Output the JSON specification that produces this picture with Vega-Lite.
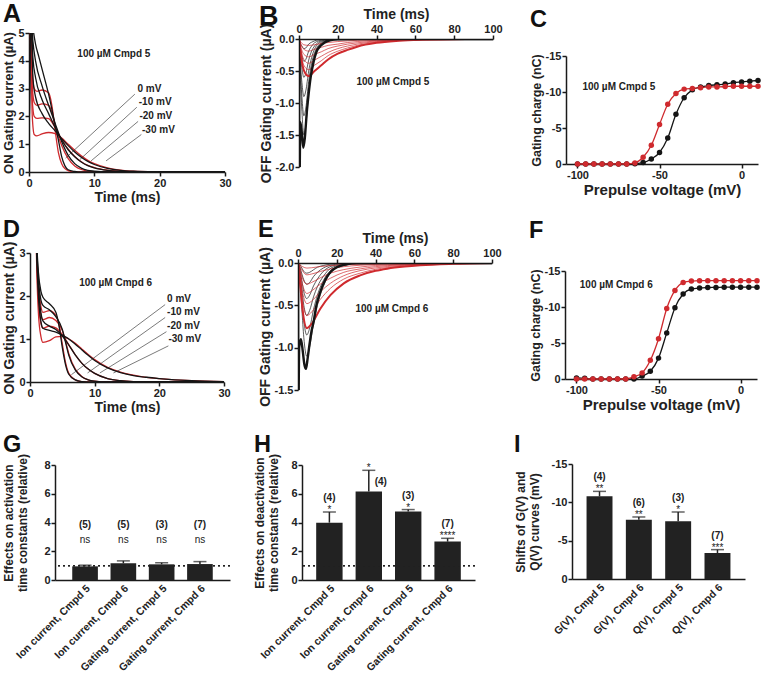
{
"$schema":"https://vega.github.io/schema/vega-lite/v6.json",
"background":"white",
"padding":{"left":1,"top":1,"right":0,"bottom":1},
"config":{
 "font":"Liberation Sans",
 "locale":{"number":{"decimal":".","thousands":",","grouping":[3],"currency":["$",""],"minus":"-"}},
 "view":{"stroke":null},
 "axis":{"grid":false,"domainColor":"#1a1a1a","domainWidth":1.5,"tickColor":"#1a1a1a","tickWidth":1.5,"tickSize":4,"labelFontSize":11,"labelFontWeight":"bold","labelColor":"#222","titleFontSize":14,"titleFontWeight":"bold","titleColor":"#222","labelPadding":1,"titlePadding":2,"labelFlush":false},
 "title":{"fontSize":23.5,"fontWeight":"bold","anchor":"start","frame":"bounds","color":"#111"},
 "text":{"font":"Liberation Sans"}
},
"datasets":{
"A":[
{"s":"k0","t":0,"v":0},{"s":"k0","t":0.25,"v":6},{"s":"k0","t":0.6,"v":5.2},{"s":"k0","t":1,"v":4.6},{"s":"k0","t":1.5,"v":4.15},{"s":"k0","t":2,"v":3.7},{"s":"k0","t":3,"v":2.8},{"s":"k0","t":4,"v":1.7},{"s":"k0","t":4.5,"v":1.15},{"s":"k0","t":5,"v":0.55},{"s":"k0","t":5.5,"v":0.22},{"s":"k0","t":6,"v":0.08},{"s":"k0","t":7,"v":0.02},{"s":"k0","t":8,"v":0},{"s":"k0","t":30,"v":0},
{"s":"k10","t":0,"v":0},{"s":"k10","t":0.25,"v":6},{"s":"k10","t":0.6,"v":4.7},{"s":"k10","t":1,"v":4.0},{"s":"k10","t":2,"v":3.1},{"s":"k10","t":3,"v":2.4},{"s":"k10","t":4,"v":1.75},{"s":"k10","t":5,"v":1.1},{"s":"k10","t":6,"v":0.6},{"s":"k10","t":7,"v":0.3},{"s":"k10","t":8,"v":0.14},{"s":"k10","t":9,"v":0.06},{"s":"k10","t":10,"v":0.03},{"s":"k10","t":12,"v":0},{"s":"k10","t":30,"v":0},
{"s":"k20","t":0,"v":0},{"s":"k20","t":0.25,"v":6},{"s":"k20","t":0.6,"v":4.1},{"s":"k20","t":1,"v":3.4},{"s":"k20","t":2,"v":2.6},{"s":"k20","t":3,"v":2.1},{"s":"k20","t":4,"v":1.6},{"s":"k20","t":5,"v":1.15},{"s":"k20","t":6,"v":0.8},{"s":"k20","t":7,"v":0.55},{"s":"k20","t":8,"v":0.36},{"s":"k20","t":9,"v":0.23},{"s":"k20","t":10,"v":0.15},{"s":"k20","t":12,"v":0.06},{"s":"k20","t":14,"v":0.02},{"s":"k20","t":16,"v":0},{"s":"k20","t":30,"v":0},
{"s":"k30","t":0,"v":0},{"s":"k30","t":0.25,"v":6},{"s":"k30","t":0.6,"v":3.4},{"s":"k30","t":1,"v":2.7},{"s":"k30","t":2,"v":2.1},{"s":"k30","t":3,"v":1.75},{"s":"k30","t":4,"v":1.48},{"s":"k30","t":5,"v":1.2},{"s":"k30","t":6,"v":0.95},{"s":"k30","t":7,"v":0.72},{"s":"k30","t":8,"v":0.53},{"s":"k30","t":9,"v":0.38},{"s":"k30","t":10,"v":0.27},{"s":"k30","t":12,"v":0.13},{"s":"k30","t":14,"v":0.06},{"s":"k30","t":16,"v":0.03},{"s":"k30","t":20,"v":0.01},{"s":"k30","t":25,"v":0},{"s":"k30","t":30,"v":0},
{"s":"r0","t":0,"v":0},{"s":"r0","t":0.2,"v":6},{"s":"r0","t":0.5,"v":3.6},{"s":"r0","t":0.8,"v":3.0},{"s":"r0","t":1.2,"v":2.9},{"s":"r0","t":2,"v":2.95},{"s":"r0","t":3,"v":2.85},{"s":"r0","t":3.5,"v":2.4},{"s":"r0","t":4,"v":1.5},{"s":"r0","t":4.5,"v":0.7},{"s":"r0","t":5,"v":0.3},{"s":"r0","t":5.5,"v":0.12},{"s":"r0","t":6,"v":0.05},{"s":"r0","t":7,"v":0},{"s":"r0","t":30,"v":0},
{"s":"r10","t":0,"v":0},{"s":"r10","t":0.2,"v":6},{"s":"r10","t":0.5,"v":3.1},{"s":"r10","t":0.8,"v":2.5},{"s":"r10","t":1.2,"v":2.4},{"s":"r10","t":2,"v":2.45},{"s":"r10","t":3,"v":2.4},{"s":"r10","t":3.5,"v":2.15},{"s":"r10","t":4,"v":1.65},{"s":"r10","t":5,"v":0.95},{"s":"r10","t":6,"v":0.48},{"s":"r10","t":7,"v":0.22},{"s":"r10","t":8,"v":0.09},{"s":"r10","t":9,"v":0.03},{"s":"r10","t":10,"v":0},{"s":"r10","t":30,"v":0},
{"s":"r20","t":0,"v":0},{"s":"r20","t":0.2,"v":6},{"s":"r20","t":0.5,"v":2.6},{"s":"r20","t":0.8,"v":2.0},{"s":"r20","t":1.2,"v":1.93},{"s":"r20","t":2,"v":1.95},{"s":"r20","t":3,"v":1.92},{"s":"r20","t":4,"v":1.6},{"s":"r20","t":5,"v":1.17},{"s":"r20","t":6,"v":0.82},{"s":"r20","t":7,"v":0.56},{"s":"r20","t":8,"v":0.37},{"s":"r20","t":9,"v":0.24},{"s":"r20","t":10,"v":0.16},{"s":"r20","t":12,"v":0.07},{"s":"r20","t":14,"v":0.03},{"s":"r20","t":16,"v":0},{"s":"r20","t":30,"v":0},
{"s":"r30","t":0,"v":0},{"s":"r30","t":0.2,"v":6},{"s":"r30","t":0.5,"v":2.0},{"s":"r30","t":0.8,"v":1.35},{"s":"r30","t":1.2,"v":1.3},{"s":"r30","t":2,"v":1.37},{"s":"r30","t":3,"v":1.42},{"s":"r30","t":4,"v":1.38},{"s":"r30","t":5,"v":1.22},{"s":"r30","t":6,"v":1.0},{"s":"r30","t":7,"v":0.78},{"s":"r30","t":8,"v":0.58},{"s":"r30","t":9,"v":0.42},{"s":"r30","t":10,"v":0.3},{"s":"r30","t":12,"v":0.15},{"s":"r30","t":14,"v":0.07},{"s":"r30","t":16,"v":0.03},{"s":"r30","t":20,"v":0.01},{"s":"r30","t":25,"v":0},{"s":"r30","t":30,"v":0}
],
"D":[
{"s":"k0","t":0.85,"v":4},{"s":"k0","t":1.05,"v":3.2},{"s":"k0","t":1.3,"v":2.55},{"s":"k0","t":1.7,"v":2.1},{"s":"k0","t":2,"v":1.97},{"s":"k0","t":3,"v":1.82},{"s":"k0","t":4,"v":1.62},{"s":"k0","t":4.5,"v":1.3},{"s":"k0","t":5,"v":0.8},{"s":"k0","t":5.5,"v":0.4},{"s":"k0","t":6,"v":0.18},{"s":"k0","t":7,"v":0.05},{"s":"k0","t":8,"v":0.01},{"s":"k0","t":10,"v":0},{"s":"k0","t":30,"v":0},
{"s":"k10","t":0.85,"v":4},{"s":"k10","t":1.05,"v":3.1},{"s":"k10","t":1.3,"v":2.4},{"s":"k10","t":1.7,"v":1.9},{"s":"k10","t":2,"v":1.78},{"s":"k10","t":3,"v":1.68},{"s":"k10","t":4,"v":1.52},{"s":"k10","t":5,"v":1.22},{"s":"k10","t":5.5,"v":0.92},{"s":"k10","t":6,"v":0.62},{"s":"k10","t":7,"v":0.28},{"s":"k10","t":8,"v":0.12},{"s":"k10","t":9,"v":0.05},{"s":"k10","t":10,"v":0.02},{"s":"k10","t":12,"v":0},{"s":"k10","t":30,"v":0},
{"s":"k20","t":0.85,"v":4},{"s":"k20","t":1.05,"v":3.0},{"s":"k20","t":1.3,"v":2.2},{"s":"k20","t":1.7,"v":1.6},{"s":"k20","t":2,"v":1.42},{"s":"k20","t":3,"v":1.3},{"s":"k20","t":4,"v":1.22},{"s":"k20","t":5,"v":1.07},{"s":"k20","t":6,"v":0.86},{"s":"k20","t":7,"v":0.63},{"s":"k20","t":8,"v":0.44},{"s":"k20","t":9,"v":0.3},{"s":"k20","t":10,"v":0.2},{"s":"k20","t":12,"v":0.08},{"s":"k20","t":14,"v":0.03},{"s":"k20","t":16,"v":0.01},{"s":"k20","t":20,"v":0},{"s":"k20","t":30,"v":0},
{"s":"k30","t":0.85,"v":4},{"s":"k30","t":1.05,"v":2.9},{"s":"k30","t":1.3,"v":2.0},{"s":"k30","t":1.7,"v":1.4},{"s":"k30","t":2,"v":1.25},{"s":"k30","t":3,"v":1.2},{"s":"k30","t":4,"v":1.16},{"s":"k30","t":5,"v":1.09},{"s":"k30","t":6,"v":1.0},{"s":"k30","t":7,"v":0.88},{"s":"k30","t":8,"v":0.75},{"s":"k30","t":9,"v":0.62},{"s":"k30","t":10,"v":0.5},{"s":"k30","t":12,"v":0.33},{"s":"k30","t":14,"v":0.22},{"s":"k30","t":16,"v":0.15},{"s":"k30","t":18,"v":0.11},{"s":"k30","t":20,"v":0.08},{"s":"k30","t":25,"v":0.03},{"s":"k30","t":30,"v":0.01},
{"s":"r0","t":0.85,"v":4},{"s":"r0","t":1.05,"v":3.0},{"s":"r0","t":1.3,"v":2.3},{"s":"r0","t":1.7,"v":1.75},{"s":"r0","t":2,"v":1.62},{"s":"r0","t":3,"v":1.66},{"s":"r0","t":4,"v":1.55},{"s":"r0","t":4.5,"v":1.32},{"s":"r0","t":5,"v":0.88},{"s":"r0","t":5.5,"v":0.45},{"s":"r0","t":6,"v":0.2},{"s":"r0","t":7,"v":0.05},{"s":"r0","t":8,"v":0.01},{"s":"r0","t":10,"v":0},{"s":"r0","t":30,"v":0},
{"s":"r10","t":0.85,"v":4},{"s":"r10","t":1.05,"v":2.9},{"s":"r10","t":1.3,"v":2.1},{"s":"r10","t":1.7,"v":1.55},{"s":"r10","t":2,"v":1.45},{"s":"r10","t":3,"v":1.5},{"s":"r10","t":4,"v":1.43},{"s":"r10","t":5,"v":1.2},{"s":"r10","t":5.5,"v":0.95},{"s":"r10","t":6,"v":0.66},{"s":"r10","t":7,"v":0.3},{"s":"r10","t":8,"v":0.13},{"s":"r10","t":9,"v":0.05},{"s":"r10","t":10,"v":0.02},{"s":"r10","t":12,"v":0},{"s":"r10","t":30,"v":0},
{"s":"r20","t":0.85,"v":4},{"s":"r20","t":1.05,"v":2.8},{"s":"r20","t":1.3,"v":1.9},{"s":"r20","t":1.7,"v":1.35},{"s":"r20","t":2,"v":1.25},{"s":"r20","t":3,"v":1.3},{"s":"r20","t":4,"v":1.26},{"s":"r20","t":5,"v":1.1},{"s":"r20","t":6,"v":0.87},{"s":"r20","t":7,"v":0.63},{"s":"r20","t":8,"v":0.44},{"s":"r20","t":9,"v":0.3},{"s":"r20","t":10,"v":0.2},{"s":"r20","t":12,"v":0.08},{"s":"r20","t":14,"v":0.03},{"s":"r20","t":16,"v":0.01},{"s":"r20","t":20,"v":0},{"s":"r20","t":30,"v":0},
{"s":"r30","t":0.85,"v":4},{"s":"r30","t":1.05,"v":2.6},{"s":"r30","t":1.3,"v":1.6},{"s":"r30","t":1.7,"v":1.05},{"s":"r30","t":2,"v":0.92},{"s":"r30","t":3,"v":0.96},{"s":"r30","t":4,"v":1.05},{"s":"r30","t":5,"v":1.06},{"s":"r30","t":6,"v":1.0},{"s":"r30","t":7,"v":0.9},{"s":"r30","t":8,"v":0.77},{"s":"r30","t":9,"v":0.64},{"s":"r30","t":10,"v":0.52},{"s":"r30","t":12,"v":0.34},{"s":"r30","t":14,"v":0.23},{"s":"r30","t":16,"v":0.16},{"s":"r30","t":18,"v":0.11},{"s":"r30","t":20,"v":0.08},{"s":"r30","t":25,"v":0.03},{"s":"r30","t":30,"v":0.01}
],
"B":[
{"s":"k0","t":0,"v":0},{"s":"k0","t":0.15,"v":-2.5},{"s":"k0","t":0.7,"v":-1.3},{"s":"k0","t":1.4,"v":-1.45},{"s":"k0","t":2.2,"v":-1.7},{"s":"k0","t":3,"v":-1.55},{"s":"k0","t":4,"v":-1.15},{"s":"k0","t":5,"v":-0.85},{"s":"k0","t":6,"v":-0.6},{"s":"k0","t":7.5,"v":-0.36},{"s":"k0","t":9,"v":-0.2},{"s":"k0","t":11,"v":-0.11},{"s":"k0","t":13,"v":-0.06},{"s":"k0","t":16,"v":-0.02},{"s":"k0","t":20,"v":-0.005},{"s":"k0","t":30,"v":0},{"s":"k0","t":100,"v":0},
{"s":"k1","t":0,"v":0},{"s":"k1","t":0.5,"v":-0.45},{"s":"k1","t":1.5,"v":-1.13},{"s":"k1","t":2.5,"v":-1.5},{"s":"k1","t":3.5,"v":-1.35},{"s":"k1","t":5,"v":-0.83},{"s":"k1","t":6.5,"v":-0.48},{"s":"k1","t":8,"v":-0.27},{"s":"k1","t":10,"v":-0.12},{"s":"k1","t":13,"v":-0.05},{"s":"k1","t":17,"v":-0.015},{"s":"k1","t":25,"v":0},{"s":"k1","t":100,"v":0},
{"s":"k2","t":0,"v":0},{"s":"k2","t":0.5,"v":-0.36},{"s":"k2","t":1.5,"v":-0.9},{"s":"k2","t":2.5,"v":-1.2},{"s":"k2","t":3.5,"v":-1.08},{"s":"k2","t":5,"v":-0.66},{"s":"k2","t":6.5,"v":-0.38},{"s":"k2","t":8,"v":-0.22},{"s":"k2","t":10,"v":-0.1},{"s":"k2","t":13,"v":-0.04},{"s":"k2","t":17,"v":-0.01},{"s":"k2","t":25,"v":0},{"s":"k2","t":100,"v":0},
{"s":"k3","t":0,"v":0},{"s":"k3","t":0.5,"v":-0.27},{"s":"k3","t":1.5,"v":-0.68},{"s":"k3","t":2.5,"v":-0.9},{"s":"k3","t":3.5,"v":-0.81},{"s":"k3","t":5,"v":-0.5},{"s":"k3","t":6.5,"v":-0.29},{"s":"k3","t":8,"v":-0.16},{"s":"k3","t":10,"v":-0.07},{"s":"k3","t":13,"v":-0.03},{"s":"k3","t":17,"v":-0.01},{"s":"k3","t":25,"v":0},{"s":"k3","t":100,"v":0},
{"s":"k4","t":0,"v":0},{"s":"k4","t":0.5,"v":-0.18},{"s":"k4","t":1.5,"v":-0.45},{"s":"k4","t":2.5,"v":-0.6},{"s":"k4","t":3.5,"v":-0.54},{"s":"k4","t":5,"v":-0.33},{"s":"k4","t":6.5,"v":-0.19},{"s":"k4","t":8,"v":-0.11},{"s":"k4","t":10,"v":-0.05},{"s":"k4","t":13,"v":-0.02},{"s":"k4","t":17,"v":-0.01},{"s":"k4","t":25,"v":0},{"s":"k4","t":100,"v":0},
{"s":"k5","t":0,"v":0},{"s":"k5","t":0.5,"v":-0.1},{"s":"k5","t":1.5,"v":-0.26},{"s":"k5","t":2.5,"v":-0.35},{"s":"k5","t":3.5,"v":-0.32},{"s":"k5","t":5,"v":-0.19},{"s":"k5","t":6.5,"v":-0.11},{"s":"k5","t":8,"v":-0.06},{"s":"k5","t":10,"v":-0.03},{"s":"k5","t":13,"v":-0.01},{"s":"k5","t":17,"v":0},{"s":"k5","t":100,"v":0},
{"s":"k6","t":0,"v":0},{"s":"k6","t":0.5,"v":-0.05},{"s":"k6","t":1.5,"v":-0.11},{"s":"k6","t":2.5,"v":-0.15},{"s":"k6","t":3.5,"v":-0.14},{"s":"k6","t":5,"v":-0.08},{"s":"k6","t":6.5,"v":-0.05},{"s":"k6","t":8,"v":-0.03},{"s":"k6","t":10,"v":-0.01},{"s":"k6","t":13,"v":0},{"s":"k6","t":100,"v":0},
{"s":"r0","t":0,"v":0},{"s":"r0","t":1,"v":-0.26},{"s":"r0","t":2.5,"v":-0.49},{"s":"r0","t":5,"v":-0.58},{"s":"r0","t":8,"v":-0.5},{"s":"r0","t":11.5,"v":-0.41},{"s":"r0","t":15,"v":-0.32},{"s":"r0","t":20,"v":-0.23},{"s":"r0","t":25,"v":-0.17},{"s":"r0","t":30,"v":-0.12},{"s":"r0","t":40,"v":-0.06},{"s":"r0","t":50,"v":-0.03},{"s":"r0","t":60,"v":-0.015},{"s":"r0","t":80,"v":-0.003},{"s":"r0","t":100,"v":0},
{"s":"r1","t":0,"v":0},{"s":"r1","t":1,"v":-0.22},{"s":"r1","t":2.5,"v":-0.41},{"s":"r1","t":5,"v":-0.48},{"s":"r1","t":8,"v":-0.41},{"s":"r1","t":11.5,"v":-0.34},{"s":"r1","t":15,"v":-0.26},{"s":"r1","t":20,"v":-0.19},{"s":"r1","t":25,"v":-0.14},{"s":"r1","t":30,"v":-0.1},{"s":"r1","t":40,"v":-0.05},{"s":"r1","t":50,"v":-0.024},{"s":"r1","t":60,"v":-0.012},{"s":"r1","t":80,"v":-0.002},{"s":"r1","t":100,"v":0},
{"s":"r2","t":0,"v":0},{"s":"r2","t":1,"v":-0.17},{"s":"r2","t":2.5,"v":-0.32},{"s":"r2","t":5,"v":-0.38},{"s":"r2","t":8,"v":-0.33},{"s":"r2","t":11.5,"v":-0.27},{"s":"r2","t":15,"v":-0.21},{"s":"r2","t":20,"v":-0.15},{"s":"r2","t":25,"v":-0.11},{"s":"r2","t":30,"v":-0.08},{"s":"r2","t":40,"v":-0.04},{"s":"r2","t":50,"v":-0.02},{"s":"r2","t":60,"v":-0.01},{"s":"r2","t":80,"v":0},{"s":"r2","t":100,"v":0},
{"s":"r3","t":0,"v":0},{"s":"r3","t":1,"v":-0.13},{"s":"r3","t":2.5,"v":-0.24},{"s":"r3","t":5,"v":-0.28},{"s":"r3","t":8,"v":-0.24},{"s":"r3","t":11.5,"v":-0.2},{"s":"r3","t":15,"v":-0.15},{"s":"r3","t":20,"v":-0.11},{"s":"r3","t":25,"v":-0.08},{"s":"r3","t":30,"v":-0.06},{"s":"r3","t":40,"v":-0.03},{"s":"r3","t":50,"v":-0.014},{"s":"r3","t":60,"v":-0.007},{"s":"r3","t":80,"v":0},{"s":"r3","t":100,"v":0},
{"s":"r4","t":0,"v":0},{"s":"r4","t":1,"v":-0.09},{"s":"r4","t":2.5,"v":-0.16},{"s":"r4","t":5,"v":-0.19},{"s":"r4","t":8,"v":-0.16},{"s":"r4","t":11.5,"v":-0.13},{"s":"r4","t":15,"v":-0.1},{"s":"r4","t":20,"v":-0.08},{"s":"r4","t":25,"v":-0.055},{"s":"r4","t":30,"v":-0.04},{"s":"r4","t":40,"v":-0.02},{"s":"r4","t":50,"v":-0.01},{"s":"r4","t":60,"v":-0.005},{"s":"r4","t":80,"v":0},{"s":"r4","t":100,"v":0},
{"s":"r5","t":0,"v":0},{"s":"r5","t":1,"v":-0.05},{"s":"r5","t":2.5,"v":-0.09},{"s":"r5","t":5,"v":-0.1},{"s":"r5","t":8,"v":-0.09},{"s":"r5","t":11.5,"v":-0.07},{"s":"r5","t":15,"v":-0.055},{"s":"r5","t":20,"v":-0.04},{"s":"r5","t":25,"v":-0.03},{"s":"r5","t":30,"v":-0.02},{"s":"r5","t":40,"v":-0.01},{"s":"r5","t":50,"v":-0.005},{"s":"r5","t":60,"v":0},{"s":"r5","t":100,"v":0}
],
"E":[
{"s":"k0","t":0,"v":0},{"s":"k0","t":0.15,"v":-1.9},{"s":"k0","t":0.6,"v":-1.0},{"s":"k0","t":1.5,"v":-0.9},{"s":"k0","t":2.5,"v":-1.05},{"s":"k0","t":3.3,"v":-1.2},{"s":"k0","t":4.1,"v":-1.25},{"s":"k0","t":5,"v":-1.12},{"s":"k0","t":6,"v":-0.95},{"s":"k0","t":7,"v":-0.8},{"s":"k0","t":8,"v":-0.7},{"s":"k0","t":9.5,"v":-0.5},{"s":"k0","t":11.5,"v":-0.34},{"s":"k0","t":14,"v":-0.2},{"s":"k0","t":17,"v":-0.1},{"s":"k0","t":20,"v":-0.05},{"s":"k0","t":25,"v":-0.015},{"s":"k0","t":30,"v":0},{"s":"k0","t":100,"v":0},
{"s":"k1","t":0,"v":0},{"s":"k1","t":1,"v":-0.22},{"s":"k1","t":2,"v":-0.55},{"s":"k1","t":3,"v":-0.88},{"s":"k1","t":4.5,"v":-1.1},{"s":"k1","t":6,"v":-0.99},{"s":"k1","t":8,"v":-0.72},{"s":"k1","t":10,"v":-0.5},{"s":"k1","t":13,"v":-0.28},{"s":"k1","t":17,"v":-0.11},{"s":"k1","t":22,"v":-0.04},{"s":"k1","t":30,"v":-0.01},{"s":"k1","t":100,"v":0},
{"s":"k2","t":0,"v":0},{"s":"k2","t":1,"v":-0.17},{"s":"k2","t":2,"v":-0.43},{"s":"k2","t":3,"v":-0.68},{"s":"k2","t":4.5,"v":-0.85},{"s":"k2","t":6,"v":-0.77},{"s":"k2","t":8,"v":-0.55},{"s":"k2","t":10,"v":-0.38},{"s":"k2","t":13,"v":-0.21},{"s":"k2","t":17,"v":-0.085},{"s":"k2","t":22,"v":-0.034},{"s":"k2","t":30,"v":-0.01},{"s":"k2","t":100,"v":0},
{"s":"k3","t":0,"v":0},{"s":"k3","t":1,"v":-0.12},{"s":"k3","t":2,"v":-0.31},{"s":"k3","t":3,"v":-0.5},{"s":"k3","t":4.5,"v":-0.62},{"s":"k3","t":6,"v":-0.56},{"s":"k3","t":8,"v":-0.4},{"s":"k3","t":10,"v":-0.28},{"s":"k3","t":13,"v":-0.16},{"s":"k3","t":17,"v":-0.06},{"s":"k3","t":22,"v":-0.025},{"s":"k3","t":30,"v":-0.006},{"s":"k3","t":100,"v":0},
{"s":"k4","t":0,"v":0},{"s":"k4","t":1,"v":-0.08},{"s":"k4","t":2,"v":-0.21},{"s":"k4","t":3,"v":-0.34},{"s":"k4","t":4.5,"v":-0.42},{"s":"k4","t":6,"v":-0.38},{"s":"k4","t":8,"v":-0.27},{"s":"k4","t":10,"v":-0.19},{"s":"k4","t":13,"v":-0.1},{"s":"k4","t":17,"v":-0.04},{"s":"k4","t":22,"v":-0.017},{"s":"k4","t":30,"v":0},{"s":"k4","t":100,"v":0},
{"s":"k5","t":0,"v":0},{"s":"k5","t":1,"v":-0.05},{"s":"k5","t":2,"v":-0.13},{"s":"k5","t":3,"v":-0.2},{"s":"k5","t":4.5,"v":-0.25},{"s":"k5","t":6,"v":-0.23},{"s":"k5","t":8,"v":-0.16},{"s":"k5","t":10,"v":-0.11},{"s":"k5","t":13,"v":-0.06},{"s":"k5","t":17,"v":-0.025},{"s":"k5","t":22,"v":-0.01},{"s":"k5","t":30,"v":0},{"s":"k5","t":100,"v":0},
{"s":"k6","t":0,"v":0},{"s":"k6","t":1,"v":-0.02},{"s":"k6","t":2,"v":-0.06},{"s":"k6","t":3,"v":-0.1},{"s":"k6","t":4.5,"v":-0.12},{"s":"k6","t":6,"v":-0.11},{"s":"k6","t":8,"v":-0.08},{"s":"k6","t":10,"v":-0.05},{"s":"k6","t":13,"v":-0.03},{"s":"k6","t":17,"v":-0.012},{"s":"k6","t":22,"v":0},{"s":"k6","t":100,"v":0},
{"s":"r0","t":0,"v":0},{"s":"r0","t":1,"v":-0.23},{"s":"r0","t":2.5,"v":-0.58},{"s":"r0","t":4.6,"v":-0.77},{"s":"r0","t":7,"v":-0.72},{"s":"r0","t":11.5,"v":-0.54},{"s":"r0","t":16.7,"v":-0.38},{"s":"r0","t":23.6,"v":-0.24},{"s":"r0","t":32,"v":-0.146},{"s":"r0","t":40,"v":-0.092},{"s":"r0","t":46,"v":-0.067},{"s":"r0","t":55,"v":-0.042},{"s":"r0","t":63,"v":-0.027},{"s":"r0","t":80,"v":-0.01},{"s":"r0","t":100,"v":0},
{"s":"r1","t":0,"v":0},{"s":"r1","t":1,"v":-0.19},{"s":"r1","t":2.5,"v":-0.47},{"s":"r1","t":4.6,"v":-0.62},{"s":"r1","t":7,"v":-0.58},{"s":"r1","t":11.5,"v":-0.43},{"s":"r1","t":16.7,"v":-0.3},{"s":"r1","t":23.6,"v":-0.19},{"s":"r1","t":32,"v":-0.12},{"s":"r1","t":40,"v":-0.074},{"s":"r1","t":46,"v":-0.054},{"s":"r1","t":55,"v":-0.034},{"s":"r1","t":63,"v":-0.022},{"s":"r1","t":80,"v":-0.008},{"s":"r1","t":100,"v":0},
{"s":"r2","t":0,"v":0},{"s":"r2","t":1,"v":-0.14},{"s":"r2","t":2.5,"v":-0.36},{"s":"r2","t":4.6,"v":-0.48},{"s":"r2","t":7,"v":-0.45},{"s":"r2","t":11.5,"v":-0.34},{"s":"r2","t":16.7,"v":-0.24},{"s":"r2","t":23.6,"v":-0.15},{"s":"r2","t":32,"v":-0.09},{"s":"r2","t":40,"v":-0.058},{"s":"r2","t":46,"v":-0.042},{"s":"r2","t":55,"v":-0.026},{"s":"r2","t":63,"v":-0.017},{"s":"r2","t":80,"v":-0.006},{"s":"r2","t":100,"v":0},
{"s":"r3","t":0,"v":0},{"s":"r3","t":1,"v":-0.11},{"s":"r3","t":2.5,"v":-0.27},{"s":"r3","t":4.6,"v":-0.36},{"s":"r3","t":7,"v":-0.33},{"s":"r3","t":11.5,"v":-0.25},{"s":"r3","t":16.7,"v":-0.18},{"s":"r3","t":23.6,"v":-0.11},{"s":"r3","t":32,"v":-0.07},{"s":"r3","t":40,"v":-0.043},{"s":"r3","t":46,"v":-0.031},{"s":"r3","t":55,"v":-0.02},{"s":"r3","t":63,"v":-0.013},{"s":"r3","t":80,"v":-0.005},{"s":"r3","t":100,"v":0},
{"s":"r4","t":0,"v":0},{"s":"r4","t":1,"v":-0.075},{"s":"r4","t":2.5,"v":-0.19},{"s":"r4","t":4.6,"v":-0.25},{"s":"r4","t":7,"v":-0.23},{"s":"r4","t":11.5,"v":-0.175},{"s":"r4","t":16.7,"v":-0.12},{"s":"r4","t":23.6,"v":-0.078},{"s":"r4","t":32,"v":-0.048},{"s":"r4","t":40,"v":-0.03},{"s":"r4","t":46,"v":-0.022},{"s":"r4","t":55,"v":-0.014},{"s":"r4","t":63,"v":-0.009},{"s":"r4","t":80,"v":-0.003},{"s":"r4","t":100,"v":0},
{"s":"r5","t":0,"v":0},{"s":"r5","t":1,"v":-0.04},{"s":"r5","t":2.5,"v":-0.1},{"s":"r5","t":4.6,"v":-0.14},{"s":"r5","t":7,"v":-0.13},{"s":"r5","t":11.5,"v":-0.1},{"s":"r5","t":16.7,"v":-0.07},{"s":"r5","t":23.6,"v":-0.043},{"s":"r5","t":32,"v":-0.027},{"s":"r5","t":40,"v":-0.017},{"s":"r5","t":46,"v":-0.012},{"s":"r5","t":55,"v":-0.008},{"s":"r5","t":63,"v":-0.005},{"s":"r5","t":80,"v":0},{"s":"r5","t":100,"v":0},
{"s":"r6","t":0,"v":0},{"s":"r6","t":1,"v":-0.02},{"s":"r6","t":2.5,"v":-0.045},{"s":"r6","t":4.6,"v":-0.06},{"s":"r6","t":7,"v":-0.056},{"s":"r6","t":11.5,"v":-0.042},{"s":"r6","t":16.7,"v":-0.03},{"s":"r6","t":23.6,"v":-0.02},{"s":"r6","t":32,"v":-0.012},{"s":"r6","t":40,"v":-0.007},{"s":"r6","t":46,"v":-0.005},{"s":"r6","t":55,"v":-0.003},{"s":"r6","t":63,"v":0},{"s":"r6","t":100,"v":0}
],
"C":[
{"c":"k","mv":-100,"q":0},{"c":"k","mv":-95,"q":0},{"c":"k","mv":-90,"q":0},{"c":"k","mv":-85,"q":0},{"c":"k","mv":-80,"q":0},{"c":"k","mv":-75,"q":0},{"c":"k","mv":-70,"q":0},{"c":"k","mv":-65,"q":-0.05},{"c":"k","mv":-60,"q":-0.2},{"c":"k","mv":-55,"q":-0.7},{"c":"k","mv":-50,"q":-1.6},{"c":"k","mv":-45,"q":-3.6},{"c":"k","mv":-40,"q":-6.9},{"c":"k","mv":-35,"q":-9.2},{"c":"k","mv":-30,"q":-10.3},{"c":"k","mv":-25,"q":-10.7},{"c":"k","mv":-20,"q":-10.9},{"c":"k","mv":-15,"q":-11.0},{"c":"k","mv":-10,"q":-11.1},{"c":"k","mv":-5,"q":-11.3},{"c":"k","mv":0,"q":-11.4},{"c":"k","mv":5,"q":-11.5},{"c":"k","mv":10,"q":-11.6},
{"c":"r","mv":-100,"q":0},{"c":"r","mv":-95,"q":0},{"c":"r","mv":-90,"q":0},{"c":"r","mv":-85,"q":0},{"c":"r","mv":-80,"q":0},{"c":"r","mv":-75,"q":0},{"c":"r","mv":-70,"q":0},{"c":"r","mv":-65,"q":-0.15},{"c":"r","mv":-60,"q":-0.93},{"c":"r","mv":-55,"q":-2.6},{"c":"r","mv":-50,"q":-5.5},{"c":"r","mv":-45,"q":-8.3},{"c":"r","mv":-40,"q":-9.8},{"c":"r","mv":-35,"q":-10.4},{"c":"r","mv":-30,"q":-10.5},{"c":"r","mv":-25,"q":-10.6},{"c":"r","mv":-20,"q":-10.7},{"c":"r","mv":-15,"q":-10.7},{"c":"r","mv":-10,"q":-10.75},{"c":"r","mv":-5,"q":-10.8},{"c":"r","mv":0,"q":-10.8},{"c":"r","mv":5,"q":-10.8},{"c":"r","mv":10,"q":-10.8}
],
"F":[
{"c":"k","mv":-100,"q":-0.15},{"c":"k","mv":-95,"q":-0.1},{"c":"k","mv":-90,"q":0},{"c":"k","mv":-85,"q":0},{"c":"k","mv":-80,"q":0},{"c":"k","mv":-75,"q":0},{"c":"k","mv":-70,"q":0},{"c":"k","mv":-65,"q":0},{"c":"k","mv":-60,"q":-0.4},{"c":"k","mv":-55,"q":-1.07},{"c":"k","mv":-50,"q":-2.9},{"c":"k","mv":-45,"q":-6.4},{"c":"k","mv":-40,"q":-9.9},{"c":"k","mv":-35,"q":-11.8},{"c":"k","mv":-30,"q":-12.5},{"c":"k","mv":-25,"q":-12.65},{"c":"k","mv":-20,"q":-12.7},{"c":"k","mv":-15,"q":-12.72},{"c":"k","mv":-10,"q":-12.75},{"c":"k","mv":-5,"q":-12.75},{"c":"k","mv":0,"q":-12.75},{"c":"k","mv":5,"q":-12.75},{"c":"k","mv":10,"q":-12.75},
{"c":"r","mv":-100,"q":0},{"c":"r","mv":-95,"q":0},{"c":"r","mv":-90,"q":0},{"c":"r","mv":-85,"q":0},{"c":"r","mv":-80,"q":0},{"c":"r","mv":-75,"q":0},{"c":"r","mv":-70,"q":0},{"c":"r","mv":-65,"q":-0.3},{"c":"r","mv":-60,"q":-0.85},{"c":"r","mv":-55,"q":-2.6},{"c":"r","mv":-50,"q":-5.6},{"c":"r","mv":-45,"q":-9.8},{"c":"r","mv":-40,"q":-12.3},{"c":"r","mv":-35,"q":-13.4},{"c":"r","mv":-30,"q":-13.6},{"c":"r","mv":-25,"q":-13.65},{"c":"r","mv":-20,"q":-13.65},{"c":"r","mv":-15,"q":-13.65},{"c":"r","mv":-10,"q":-13.65},{"c":"r","mv":-5,"q":-13.65},{"c":"r","mv":0,"q":-13.65},{"c":"r","mv":5,"q":-13.65},{"c":"r","mv":10,"q":-13.65}
],
"G":[
{"cat":"Ion current, Cmpd 5","val":0.95,"err":1.03,"n":"(5)","sig":"ns"},
{"cat":"Ion current, Cmpd 6","val":1.16,"err":1.33,"n":"(5)","sig":"ns"},
{"cat":"Gating current, Cmpd 5","val":1.09,"err":1.2,"n":"(3)","sig":"ns"},
{"cat":"Gating current, Cmpd 6","val":1.11,"err":1.28,"n":"(7)","sig":"ns"}
],
"H":[
{"cat":"Ion current, Cmpd 5","val":3.99,"err":4.73,"n":"(4)","sig":"*"},
{"cat":"Ion current, Cmpd 6","val":6.15,"err":7.63,"n":"(4)","sig":"*"},
{"cat":"Gating current, Cmpd 5","val":4.76,"err":4.9,"n":"(3)","sig":"*"},
{"cat":"Gating current, Cmpd 6","val":2.67,"err":2.9,"n":"(7)","sig":"****"}
],
"I":[
{"cat":"G(V), Cmpd 5","val":-10.78,"err":-11.43,"n":"(4)","sig":"**"},
{"cat":"G(V), Cmpd 6","val":-7.74,"err":-8.09,"n":"(6)","sig":"**"},
{"cat":"Q(V), Cmpd 5","val":-7.52,"err":-8.74,"n":"(3)","sig":"*"},
{"cat":"Q(V), Cmpd 6","val":-3.39,"err":-3.83,"n":"(7)","sig":"***"}
]
},
"spacing":12,
"vconcat":[
{"hconcat":[
 {"width":1,"height":1,"data":{"values":[]},"mark":"point"},
 {"hconcat":[
  {"vconcat":[
   {"width":1,"height":1,"data":{"values":[]},"mark":"point"},
   {"title":{"text":"A","fontSize":25,"offset":0},"width":196,"height":139,"data":{"name":"A"},
    "encoding":{"x":{"field":"t","type":"quantitative","scale":{"domain":[0,30],"nice":false},"axis":{"title":"Time (ms)","values":[0,10,20,30]}},
     "y":{"field":"v","type":"quantitative","scale":{"domain":[0,5],"nice":false},"axis":{"title":"ON Gating current (µA)","titleFontSize":13,"values":[0,1,2,3,4,5]}}},
    "layer":[
     {"transform":[{"filter":"indexof(datum.s,'r')==0"}],"mark":{"type":"line","clip":true,"interpolate":"monotone","color":"#cf2a2e","strokeWidth":1.3},"encoding":{"detail":{"field":"s"}}},
     {"transform":[{"filter":"indexof(datum.s,'k')==0"}],"mark":{"type":"line","clip":true,"interpolate":"monotone","color":"#151515","strokeWidth":1.3},"encoding":{"detail":{"field":"s"}}},
     {"data":{"values":[{"t":5.6,"v":0.5,"t2":16.2,"v2":2.8},{"t":7.8,"v":0.45,"t2":16.5,"v2":2.33},{"t":9.5,"v":0.4,"t2":16.7,"v2":1.82},{"t":11.8,"v":0.4,"t2":17.2,"v2":1.35}]},"mark":{"type":"rule","color":"#222","strokeWidth":0.6},"encoding":{"x2":{"field":"t2"},"y2":{"field":"v2"}}},
     {"data":{"values":[{"t":16.6,"v":3.0,"txt":"0 mV"},{"t":16.8,"v":2.52,"txt":"-10 mV"},{"t":16.9,"v":2.0,"txt":"-20 mV"},{"t":17.3,"v":1.5,"txt":"-30 mV"},{"t":7.4,"v":4.26,"txt":"100 µM Cmpd 5"}]},"mark":{"type":"text","align":"left","baseline":"middle","fontSize":10,"fontWeight":"bold","color":"#222"},"encoding":{"text":{"field":"txt"}}}
    ]}
  ],"spacing":0},
  {"vconcat":[
   {"width":1,"height":2,"data":{"values":[]},"mark":"point"},
   {"title":{"text":"B","fontSize":27,"offset":-24},"width":194,"height":128,"data":{"name":"B"},
    "encoding":{"x":{"field":"t","type":"quantitative","scale":{"domain":[0,100],"nice":false},"axis":{"title":"Time (ms)","orient":"top","values":[0,20,40,60,80,100]}},
     "y":{"field":"v","type":"quantitative","scale":{"domain":[-2,0],"nice":false},"axis":{"title":"OFF Gating current (µA)","values":[0,-0.5,-1,-1.5,-2],"format":".1f"}}},
    "layer":[
     {"transform":[{"filter":"indexof(datum.s,'k')==0 && datum.s!='k0'"}],"mark":{"type":"line","clip":true,"interpolate":"monotone","color":"#151515","strokeWidth":0.7},"encoding":{"detail":{"field":"s"}}},
     {"transform":[{"filter":"indexof(datum.s,'r')==0 && datum.s!='r0'"}],"mark":{"type":"line","clip":true,"interpolate":"monotone","color":"#cf2a2e","strokeWidth":0.7},"encoding":{"detail":{"field":"s"}}},
     {"transform":[{"filter":"datum.s=='r0'"}],"mark":{"type":"line","clip":true,"interpolate":"monotone","color":"#cf2a2e","strokeWidth":2}},
     {"transform":[{"filter":"datum.s=='k0'"}],"mark":{"type":"line","clip":true,"interpolate":"monotone","color":"#151515","strokeWidth":2.4}},
     {"data":{"values":[{"t":29.6,"v":-0.67,"txt":"100 µM Cmpd 5"}]},"mark":{"type":"text","align":"left","baseline":"middle","fontSize":10,"fontWeight":"bold","color":"#222"},"encoding":{"text":{"field":"txt"}}}
    ]}
  ],"spacing":0},
  {"vconcat":[
   {"width":1,"height":6,"data":{"values":[]},"mark":"point"},
   {"title":{"text":"C","offset":19},"width":192,"height":108,"data":{"name":"C"},
    "encoding":{"x":{"field":"mv","type":"quantitative","scale":{"domain":[-107,10],"nice":false,"zero":false},"axis":{"title":"Prepulse voltage (mV)","titleFontSize":15,"values":[-100,-50,0]}},
     "y":{"field":"q","type":"quantitative","scale":{"domain":[-15,0],"nice":false,"reverse":true},"axis":{"title":"Gating charge (nC)","titleFontSize":12.5,"values":[0,-5,-10,-15]}}},
    "layer":[
     {"transform":[{"filter":"datum.c=='k'"}],"mark":{"type":"line","interpolate":"monotone","color":"#151515","strokeWidth":1.3}},
     {"transform":[{"filter":"datum.c=='r'"}],"mark":{"type":"line","interpolate":"monotone","color":"#cf2a2e","strokeWidth":1.3}},
     {"transform":[{"filter":"datum.c=='k'"}],"mark":{"type":"point","filled":true,"opacity":1,"size":30,"color":"#151515"}},
     {"transform":[{"filter":"datum.c=='r'"}],"mark":{"type":"point","filled":true,"opacity":1,"size":30,"color":"#cf2a2e"}},
     {"data":{"values":[{"mv":-97,"q":-10.7,"txt":"100 µM Cmpd 5"}]},"mark":{"type":"text","align":"left","baseline":"middle","fontSize":10,"fontWeight":"bold","color":"#222"},"encoding":{"text":{"field":"txt"}}}
    ]}
  ],"spacing":0}
 ],"spacing":27}
],"spacing":0},
{"vconcat":[
{"hconcat":[
 {"width":1,"height":1,"data":{"values":[]},"mark":"point"},
 {"hconcat":[
  {"vconcat":[
   {"width":1,"height":1,"data":{"values":[]},"mark":"point"},
   {"title":{"text":"D","offset":0},"width":194,"height":129,"data":{"name":"D"},
    "encoding":{"x":{"field":"t","type":"quantitative","scale":{"domain":[0,30],"nice":false},"axis":{"title":"Time (ms)","values":[0,10,20,30]}},
     "y":{"field":"v","type":"quantitative","scale":{"domain":[0,3],"nice":false},"axis":{"title":"ON Gating current (µA)","values":[0,1,2,3]}}},
    "layer":[
     {"transform":[{"filter":"indexof(datum.s,'r')==0"}],"mark":{"type":"line","clip":true,"interpolate":"monotone","color":"#cf2a2e","strokeWidth":1.3},"encoding":{"detail":{"field":"s"}}},
     {"transform":[{"filter":"indexof(datum.s,'k')==0"}],"mark":{"type":"line","clip":true,"interpolate":"monotone","color":"#151515","strokeWidth":1.3},"encoding":{"detail":{"field":"s"}}},
     {"data":{"values":[{"t":6.4,"v":0.17,"t2":20.9,"v2":1.8},{"t":8.9,"v":0.21,"t2":20.9,"v2":1.5},{"t":10.8,"v":0.21,"t2":21.1,"v2":1.17},{"t":12.9,"v":0.21,"t2":21.4,"v2":0.84}]},"mark":{"type":"rule","color":"#222","strokeWidth":0.6},"encoding":{"x2":{"field":"t2"},"y2":{"field":"v2"}}},
     {"data":{"values":[{"t":21.2,"v":1.92,"txt":"0 mV"},{"t":21.2,"v":1.63,"txt":"-10 mV"},{"t":21.2,"v":1.31,"txt":"-20 mV"},{"t":21.4,"v":1.0,"txt":"-30 mV"},{"t":7.6,"v":2.3,"txt":"100 µM Cmpd 6"}]},"mark":{"type":"text","align":"left","baseline":"middle","fontSize":10,"fontWeight":"bold","color":"#222"},"encoding":{"text":{"field":"txt"}}}
    ]}
  ],"spacing":0},
  {"vconcat":[
   {"width":1,"height":1,"data":{"values":[]},"mark":"point"},
   {"title":{"text":"E","offset":-10},"width":194,"height":127,"data":{"name":"E"},
    "encoding":{"x":{"field":"t","type":"quantitative","scale":{"domain":[0,100],"nice":false},"axis":{"title":"Time (ms)","orient":"top","values":[0,20,40,60,80,100]}},
     "y":{"field":"v","type":"quantitative","scale":{"domain":[-1.5,0],"nice":false},"axis":{"title":"OFF Gating current (µA)","values":[0,-0.5,-1,-1.5],"format":".1f"}}},
    "layer":[
     {"transform":[{"filter":"indexof(datum.s,'k')==0 && datum.s!='k0'"}],"mark":{"type":"line","clip":true,"interpolate":"monotone","color":"#151515","strokeWidth":0.7},"encoding":{"detail":{"field":"s"}}},
     {"transform":[{"filter":"indexof(datum.s,'r')==0 && datum.s!='r0'"}],"mark":{"type":"line","clip":true,"interpolate":"monotone","color":"#cf2a2e","strokeWidth":0.7},"encoding":{"detail":{"field":"s"}}},
     {"transform":[{"filter":"datum.s=='r0'"}],"mark":{"type":"line","clip":true,"interpolate":"monotone","color":"#cf2a2e","strokeWidth":2}},
     {"transform":[{"filter":"datum.s=='k0'"}],"mark":{"type":"line","clip":true,"interpolate":"monotone","color":"#151515","strokeWidth":2.4}},
     {"data":{"values":[{"t":29.6,"v":-0.54,"txt":"100 µM Cmpd 6"}]},"mark":{"type":"text","align":"left","baseline":"middle","fontSize":10,"fontWeight":"bold","color":"#222"},"encoding":{"text":{"field":"txt"}}}
    ]}
  ],"spacing":0},
  {"vconcat":[
   {"width":1,"height":2,"data":{"values":[]},"mark":"point"},
   {"title":{"text":"F","offset":23},"width":192,"height":108,"data":{"name":"F"},
    "encoding":{"x":{"field":"mv","type":"quantitative","scale":{"domain":[-107,10],"nice":false,"zero":false},"axis":{"title":"Prepulse voltage (mV)","titleFontSize":15,"values":[-100,-50,0]}},
     "y":{"field":"q","type":"quantitative","scale":{"domain":[-15,0],"nice":false,"reverse":true},"axis":{"title":"Gating charge (nC)","titleFontSize":12.5,"values":[0,-5,-10,-15]}}},
    "layer":[
     {"transform":[{"filter":"datum.c=='k'"}],"mark":{"type":"line","interpolate":"monotone","color":"#151515","strokeWidth":1.3}},
     {"transform":[{"filter":"datum.c=='r'"}],"mark":{"type":"line","interpolate":"monotone","color":"#cf2a2e","strokeWidth":1.3}},
     {"transform":[{"filter":"datum.c=='k'"}],"mark":{"type":"point","filled":true,"opacity":1,"size":30,"color":"#151515"}},
     {"transform":[{"filter":"datum.c=='r'"}],"mark":{"type":"point","filled":true,"opacity":1,"size":30,"color":"#cf2a2e"}},
     {"data":{"values":[{"mv":-98,"q":-13.1,"txt":"100 µM Cmpd 6"}]},"mark":{"type":"text","align":"left","baseline":"middle","fontSize":10,"fontWeight":"bold","color":"#222"},"encoding":{"text":{"field":"txt"}}}
    ]}
  ],"spacing":0}
 ],"spacing":27}
],"spacing":0},
{"hconcat":[
 {"width":1,"height":1,"data":{"values":[]},"mark":"point"},
 {"hconcat":[
  {"vconcat":[
   {"width":1,"height":1,"data":{"values":[]},"mark":"point"},
   {"title":{"text":"G","offset":-3},"width":175,"height":115,"data":{"name":"G"},
    "encoding":{"x":{"field":"cat","type":"nominal","sort":null,"scale":{"paddingInner":0.33,"paddingOuter":0.45},"axis":{"title":null,"labelAngle":-45,"labelFontSize":10.5,"ticks":false,"labelPadding":3}},
     "y":{"field":"val","type":"quantitative","scale":{"domain":[0,8],"nice":false},"axis":{"title":["Effects on activation","time constants (relative)"],"titleFontSize":12,"titleLineHeight":14,"titlePadding":14,"values":[0,2,4,6,8]}}},
    "layer":[
     {"mark":{"type":"bar","color":"#222"}},
     {"mark":{"type":"rule","color":"#222","strokeWidth":1.5},"encoding":{"y2":{"field":"err"}}},
     {"mark":{"type":"tick","color":"#222","thickness":1.5,"size":13},"encoding":{"y":{"field":"err","type":"quantitative"}}},
     {"mark":{"type":"rule","color":"#222","strokeWidth":1.2,"strokeDash":[2,3]},"encoding":{"x":null,"y":{"datum":1}}},
     {"mark":{"type":"text","fontSize":10,"fontWeight":"bold","color":"#222","baseline":"middle"},"encoding":{"y":{"datum":3.8},"text":{"field":"n"}}},
     {"mark":{"type":"text","fontSize":10,"color":"#222","baseline":"middle"},"encoding":{"y":{"datum":2.75},"text":{"field":"sig"}}}
    ]}
  ],"spacing":0},
  {"hconcat":[
   {"vconcat":[
    {"width":1,"height":1,"data":{"values":[]},"mark":"point"},
    {"title":{"text":"H","offset":-3},"width":173,"height":115,"data":{"name":"H"},
     "encoding":{"x":{"field":"cat","type":"nominal","sort":null,"scale":{"paddingInner":0.33,"paddingOuter":0.36},"axis":{"title":null,"labelAngle":-45,"labelFontSize":10.5,"ticks":false,"labelPadding":3}},
      "y":{"field":"val","type":"quantitative","scale":{"domain":[0,8],"nice":false},"axis":{"title":["Effects on deactivation","time constants (relative)"],"titleFontSize":12,"titleLineHeight":14,"titlePadding":10,"values":[0,2,4,6,8]}}},
     "layer":[
      {"mark":{"type":"bar","color":"#222"}},
      {"mark":{"type":"rule","color":"#222","strokeWidth":1.5},"encoding":{"y2":{"field":"err"}}},
      {"mark":{"type":"tick","color":"#222","thickness":1.5,"size":13},"encoding":{"y":{"field":"err","type":"quantitative"}}},
      {"mark":{"type":"rule","color":"#222","strokeWidth":1.2,"strokeDash":[2,3]},"encoding":{"x":null,"y":{"datum":1}}},
      {"transform":[{"filter":"datum.cat!='Ion current, Cmpd 6'"}],"mark":{"type":"text","fontSize":10,"fontWeight":"bold","color":"#222","baseline":"middle","dy":-14},"encoding":{"y":{"field":"err","type":"quantitative"},"text":{"field":"n"}}},
      {"transform":[{"filter":"datum.cat=='Ion current, Cmpd 6'"}],"mark":{"type":"text","fontSize":10,"fontWeight":"bold","color":"#222","baseline":"middle","dx":12,"dy":12},"encoding":{"y":{"field":"err","type":"quantitative"},"text":{"field":"n"}}},
      {"mark":{"type":"text","fontSize":10,"color":"#222","baseline":"alphabetic","dy":1},"encoding":{"y":{"field":"err","type":"quantitative"},"text":{"field":"sig"}}}
     ]}
   ],"spacing":0},
   {"vconcat":[
    {"width":1,"height":1,"data":{"values":[]},"mark":"point"},
    {"title":{"text":"I","offset":2},"width":173,"height":115,"data":{"name":"I"},
     "encoding":{"x":{"field":"cat","type":"nominal","sort":null,"scale":{"paddingInner":0.34,"paddingOuter":0.37},"axis":{"title":null,"labelAngle":-45,"labelFontSize":10.5,"ticks":false,"labelPadding":3}},
      "y":{"field":"val","type":"quantitative","scale":{"domain":[-15,0],"nice":false,"reverse":true},"axis":{"title":["Shifts of G(V) and","Q(V) curves (mV)"],"titleFontSize":12,"titleLineHeight":14,"titlePadding":10,"values":[0,-5,-10,-15]}}},
     "layer":[
      {"mark":{"type":"bar","color":"#222"}},
      {"mark":{"type":"rule","color":"#222","strokeWidth":1.5},"encoding":{"y2":{"field":"err"}}},
      {"mark":{"type":"tick","color":"#222","thickness":1.5,"size":13},"encoding":{"y":{"field":"err","type":"quantitative"}}},
      {"mark":{"type":"text","fontSize":10,"fontWeight":"bold","color":"#222","baseline":"middle","dy":-14},"encoding":{"y":{"field":"err","type":"quantitative"},"text":{"field":"n"}}},
      {"mark":{"type":"text","fontSize":10,"color":"#222","baseline":"alphabetic","dy":1},"encoding":{"y":{"field":"err","type":"quantitative"},"text":{"field":"sig"}}}
     ]}
   ],"spacing":0}
  ],"spacing":38}
 ],"spacing":22}
],"spacing":0}
],"spacing":17}
]
}
